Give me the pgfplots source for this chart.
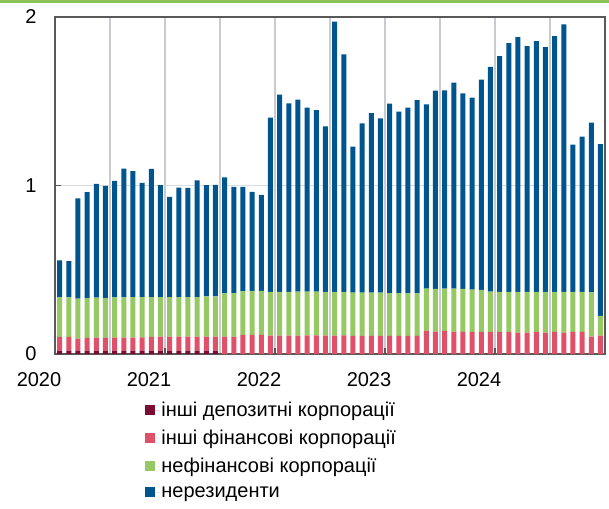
\documentclass[border=0pt]{standalone}
\usepackage{fontspec}
\setmainfont{Liberation Sans}
\usepackage{pgfplots}
\pgfplotsset{compat=1.18}
\usepackage{pgfplotstable}
\definecolor{cDep}{HTML}{7B0D35}
\definecolor{cFin}{HTML}{E05068}
\definecolor{cNon}{HTML}{96C864}
\definecolor{cNonres}{HTML}{00558F}
\definecolor{axgray}{HTML}{595959}
\definecolor{gridc}{HTML}{C8CCD0}
\definecolor{topline}{HTML}{8DC45A}
\pgfplotstableread{
i D P G B
0 0.020 0.081 0.235 0.219
1 0.020 0.081 0.235 0.215
2 0.020 0.071 0.237 0.596
3 0.020 0.075 0.237 0.628
4 0.020 0.077 0.237 0.676
5 0.020 0.075 0.237 0.666
6 0.020 0.077 0.239 0.692
7 0.020 0.077 0.239 0.764
8 0.020 0.077 0.241 0.747
9 0.020 0.079 0.239 0.678
10 0.020 0.081 0.237 0.761
11 0.020 0.083 0.235 0.664
12 0.020 0.083 0.235 0.595
13 0.020 0.083 0.235 0.650
14 0.020 0.083 0.235 0.648
15 0.020 0.083 0.235 0.693
16 0.020 0.083 0.239 0.660
17 0.020 0.083 0.239 0.662
18 0 0.103 0.257 0.688
19 0 0.103 0.259 0.630
20 0 0.113 0.259 0.620
21 0 0.113 0.261 0.588
22 0 0.113 0.261 0.571
23 0 0.109 0.259 1.035
24 0 0.109 0.259 1.172
25 0 0.109 0.259 1.120
26 0 0.109 0.261 1.140
27 0 0.111 0.259 1.092
28 0 0.111 0.259 1.078
29 0 0.109 0.259 0.983
30 0 0.109 0.259 1.605
31 0 0.111 0.257 1.410
32 0 0.107 0.257 0.866
33 0 0.107 0.257 1.005
34 0 0.107 0.257 1.066
35 0 0.107 0.257 1.035
36 0 0.107 0.255 1.124
37 0 0.107 0.255 1.076
38 0 0.107 0.253 1.102
39 0 0.107 0.253 1.146
40 0 0.138 0.250 1.094
41 0 0.133 0.253 1.177
42 0 0.137 0.251 1.177
43 0 0.133 0.255 1.223
44 0 0.131 0.255 1.160
45 0 0.131 0.251 1.140
46 0 0.131 0.249 1.249
47 0 0.131 0.239 1.334
48 0 0.131 0.237 1.400
49 0 0.131 0.237 1.477
50 0 0.127 0.241 1.513
51 0 0.127 0.241 1.459
52 0 0.131 0.237 1.489
53 0 0.127 0.241 1.453
54 0 0.131 0.237 1.519
55 0 0.127 0.241 1.588
56 0 0.131 0.237 0.874
57 0 0.131 0.237 0.922
58 0 0.103 0.263 1.007
59 0 0.109 0.118 1.019
}\data
\begin{document}
\begin{tikzpicture}[x=1pt,y=1pt]
\useasboundingbox (0,0) rectangle (609,508);
\fill[topline] (0,505) rectangle (609,508);
\begin{axis}[
  at={(55pt,154pt)}, anchor=south west,
  scale only axis, width=550pt, height=337pt,
  ybar stacked, bar width=5pt,
  xmin=-0.5, xmax=59.5, ymin=0, ymax=2,
  xtick={-0.5,11.5,23.5,35.5,47.5},
  xticklabels={2020,2021,2022,2023,2024},
  minor xtick={5.5,17.5,29.5,41.5,53.5},
  xmajorgrids, xminorgrids,
  ytick={0,1,2}, ymajorgrids,
  grid style={draw=gridc, line width=1.1pt},
  minor grid style={draw=gridc, line width=1.1pt},
  y grid style={draw=gridc!70, line width=0.8pt},
  tick align=inside, xtick pos=left, ytick pos=left,
  major tick length=6pt, minor tick length=0pt,
  major tick style={draw=axgray, line width=1.5pt},
  axis line style={draw=axgray, line width=1.8pt},
  /pgf/number format/assume math mode=true,
  tick label style={font=\fontsize{20}{23}\selectfont},
  xticklabel style={xshift=-16pt, yshift=-15pt},
  yticklabel style={xshift=-15pt},
  legend style={at={(0.164,-0.137)}, anchor=north west, draw=none, fill=none,
    font=\fontsize{20}{23}\selectfont, row sep=8pt, inner sep=0pt},
  legend cell align=left,
  legend image code/.code={\fill[#1] (0pt,-5pt) rectangle (10pt,5pt);\path (0pt,0pt) -- (14pt,0pt);},
]
\addplot[fill=cDep, draw=none] table[x=i,y=D]{\data};
\addplot[fill=cFin, draw=none] table[x=i,y=P]{\data};
\addplot[fill=cNon, draw=none] table[x=i,y=G]{\data};
\addplot[fill=cNonres, draw=none] table[x=i,y=B]{\data};
\legend{інші депозитні корпорації, інші фінансові корпорації, нефінансові корпорації, нерезиденти}
\end{axis}
\end{tikzpicture}
\end{document}
